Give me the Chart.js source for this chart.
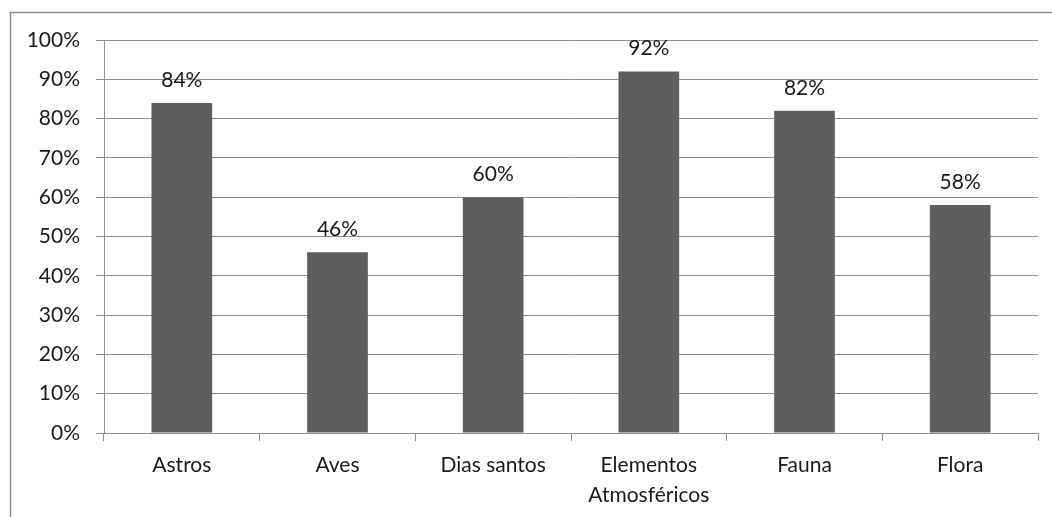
<!DOCTYPE html>
<html>
<head>
<meta charset="utf-8">
<script src="https://cdn.jsdelivr.net/npm/chart.js@4/dist/chart.umd.min.js"></script>
<style>
  html, body { margin: 0; padding: 0; background: #fff; }
  #wrap { width: 1052px; height: 517px; }
</style>
</head>
<body>
<div id="wrap"><canvas id="chart" width="1052" height="517"></canvas></div>
<script>
// Data
var categories = ['Astros', 'Aves', 'Dias santos', ['Elementos', 'Atmosféricos'], 'Fauna', 'Flora'];
var percentages = [84, 46, 60, 92, 82, 58];
var yTicks = [0, 10, 20, 30, 40, 50, 60, 70, 80, 90, 100];

var gridColor = '#8e8e8e';
var textColor = '#1a1a1a';
var fontFamily = 'Lato, "Open Sans", sans-serif';

// Outer frame of the chart (cut off at right and bottom in the reference)
var framePlugin = {
    id: 'frame',
    beforeDraw: function (chart) {
        var ctx = chart.ctx;
        ctx.save();
        ctx.fillStyle = '#ffffff';
        ctx.fillRect(0, 0, chart.width, chart.height);
        ctx.strokeStyle = '#8e8e8e';
        ctx.lineWidth = 1.5;
        ctx.strokeRect(10.5, 12.5, chart.width + 20, chart.height + 20);
        ctx.restore();
    }
};

// Value labels above each bar
var valueLabels = {
    id: 'valueLabels',
    afterDatasetsDraw: function (chart) {
        var ctx = chart.ctx;
        var meta = chart.getDatasetMeta(0);
        ctx.save();
        ctx.fillStyle = textColor;
        ctx.font = '21px ' + fontFamily;
        ctx.textAlign = 'center';
        ctx.textBaseline = 'middle';
        meta.data.forEach(function (bar, i) {
            ctx.fillText(percentages[i] + '%', bar.x, bar.y - 23);
        });
        ctx.restore();
    }
};

var ctx = document.getElementById('chart').getContext('2d');
var chart = new Chart(ctx, {
    type: 'bar',
    data: {
        labels: categories,
        datasets: [
            {
                data: percentages,
                backgroundColor: '#5f5f5f',
                borderWidth: 0,
                categoryPercentage: 1,
                barPercentage: 0.39
            }
        ]
    },
    options: {
        responsive: false,
        animation: false,
        layout: { padding: { left: 0, right: 14, top: 40, bottom: 0 } },
        plugins: {
            legend: { display: false },
            tooltip: { enabled: false }
        },
        scales: {
            x: {
                afterFit: function (scale) { scale.height = 84; },
                grid: {
                    offset: true,
                    drawOnChartArea: false,
                    drawTicks: true,
                    tickLength: 8,
                    color: gridColor
                },
                border: { color: gridColor, width: 1 },
                ticks: {
                    color: textColor,
                    font: { family: fontFamily, size: 21, lineHeight: 1.4 },
                    padding: 10,
                    maxRotation: 0,
                    autoSkip: false
                }
            },
            y: {
                min: 0,
                max: 100,
                afterFit: function (scale) { scale.width = 104; },
                afterBuildTicks: function (scale) {
                    scale.ticks = yTicks.map(function (v) { return { value: v }; });
                },
                grid: {
                    color: gridColor,
                    lineWidth: 1,
                    tickLength: 8
                },
                border: { color: gridColor, width: 1 },
                ticks: {
                    color: textColor,
                    font: { family: fontFamily, size: 21 },
                    padding: 16,
                    callback: function (v) { return v + '%'; }
                }
            }
        }
    },
    plugins: [framePlugin, valueLabels]
});
</script>
</body>
</html>
